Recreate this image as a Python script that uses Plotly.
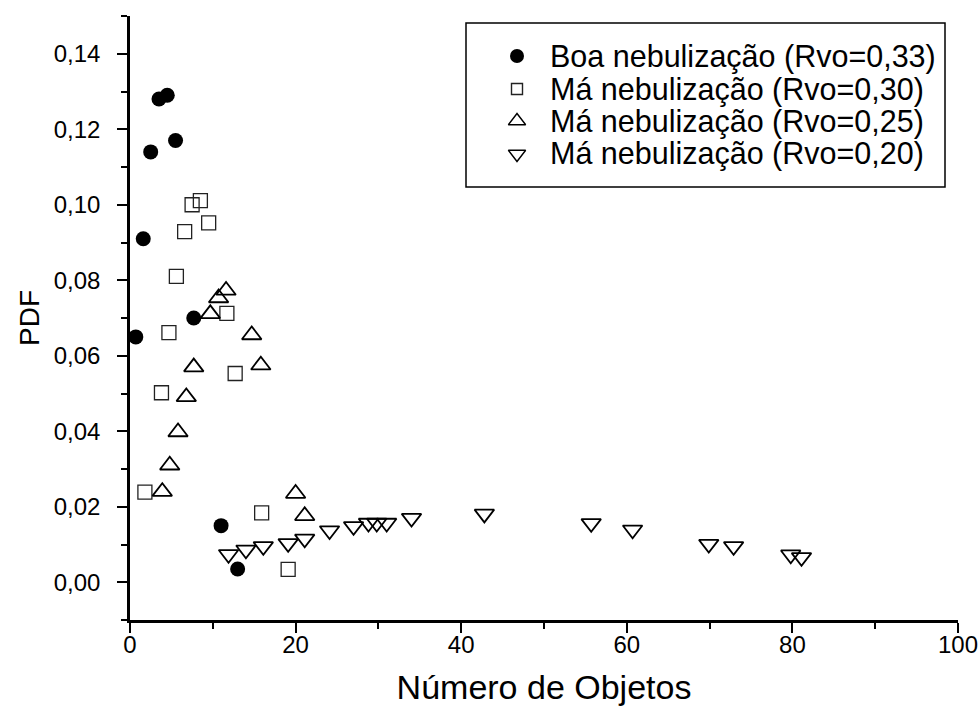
import plotly.graph_objects as go

# Boa nebulização (Rvo=0,33)
boa_x = [0.7, 1.6, 2.5, 3.5, 4.5, 5.5, 7.7, 11.0, 13.0]
boa_y = [0.065, 0.091, 0.114, 0.128, 0.129, 0.117, 0.070, 0.015, 0.0035]

# Má nebulização (Rvo=0,30)
ma30_x = [1.8, 3.8, 4.7, 5.6, 6.6, 7.5, 8.5, 9.5, 11.7, 12.7, 15.9, 19.1]
ma30_y = [0.0239, 0.0502, 0.0661, 0.0810, 0.0929, 0.1000, 0.1011, 0.0952,
          0.0712, 0.0553, 0.0184, 0.0034]

# Má nebulização (Rvo=0,25)
ma25_x = [3.9, 4.8, 5.8, 6.8, 7.7, 9.7, 10.7, 11.6, 14.7, 15.8, 20.0, 21.1]
ma25_y = [0.0240, 0.0310, 0.0398, 0.0491, 0.0570, 0.0711, 0.0753, 0.0773,
          0.0655, 0.0575, 0.0235, 0.0176]

# Má nebulização (Rvo=0,20)
ma20_x = [11.9, 14.0, 16.1, 19.1, 21.1, 24.1, 27.0, 28.8, 29.8, 31.0, 34.0,
          42.8, 55.7, 60.7, 69.9, 72.9, 79.8, 81.1]
ma20_y = [0.0074, 0.0086, 0.0095, 0.0103, 0.0115, 0.0137, 0.0148, 0.0157,
          0.0157, 0.0157, 0.0170, 0.0181, 0.0156, 0.0139, 0.0101, 0.0095,
          0.0073, 0.0066]

series_names = [
    "Boa nebulização (Rvo=0,33)",
    "Má nebulização (Rvo=0,30)",
    "Má nebulização (Rvo=0,25)",
    "Má nebulização (Rvo=0,20)",
]

x_ticks = [0, 20, 40, 60, 80, 100]
y_ticks = [0.00, 0.02, 0.04, 0.06, 0.08, 0.10, 0.12, 0.14]

FONT = "Arial, Liberation Sans, sans-serif"

# Page geometry (pixels) of the plotting area
W, H = 980, 706
L, R, T, B = 130, 958, 16, 620


def px_x(px):
    """Horizontal pixel -> fraction of plotting area."""
    return (px - L) / (R - L)


def px_y(py):
    """Vertical pixel -> fraction of plotting area (bottom = 0)."""
    return (B - py) / (B - T)


styles = [
    dict(symbol="circle", size=15, color="black", line=dict(width=0)),
    dict(symbol="square-open", size=14, color="#222222", line=dict(width=1.3)),
    dict(symbol="triangle-up-open", size=17, color="black", line=dict(width=1.8)),
    dict(symbol="triangle-down-open", size=17, color="black", line=dict(width=1.8)),
]
legend_sizes = [14, 11, 15, 15]

fig = go.Figure()
for name, xs, ys, st in zip(series_names,
                            [boa_x, ma30_x, ma25_x, ma20_x],
                            [boa_y, ma30_y, ma25_y, ma20_y], styles):
    fig.add_trace(go.Scatter(x=xs, y=ys, mode="markers", name=name,
                             marker=st, showlegend=False))

# Legend panel: box, sample markers and labels
box_l, box_r, box_t, box_b = 466, 945, 23, 187
row_y = [56, 89, 121, 154]
mark_x = 517
text_x = 548

fig.add_shape(type="rect", xref="paper", yref="paper",
              x0=px_x(box_l), x1=px_x(box_r), y0=px_y(box_b), y1=px_y(box_t),
              line=dict(color="black", width=1.5), fillcolor="white",
              layer="below")

for name, st, sz, ry in zip(series_names, styles, legend_sizes, row_y):
    mk = dict(st)
    mk["size"] = sz
    if mk["symbol"] != "circle":
        mk["line"] = dict(width=1.4)
    fig.add_trace(go.Scatter(x=[px_x(mark_x)], y=[px_y(ry)], mode="markers",
                             xaxis="x2", yaxis="y2", marker=mk,
                             showlegend=False, hoverinfo="skip", name=name))
    fig.add_annotation(xref="paper", yref="paper", x=px_x(text_x), y=px_y(ry),
                       xanchor="left", yanchor="middle", showarrow=False,
                       text=name,
                       font=dict(family=FONT, size=30.5, color="black"))

axis_common = dict(
    showline=True, linecolor="black", linewidth=2.5,
    ticks="outside", tickcolor="black", tickwidth=2, ticklen=10,
    showgrid=False, zeroline=False, mirror=False, automargin=False,
    ticklabeloverflow="allow",
    tickfont=dict(family=FONT, size=24, color="black"),
)

fig.update_xaxes(
    range=[0, 100], tickvals=x_ticks, ticktext=[str(v) for v in x_ticks],
    minor=dict(ticks="outside", ticklen=6, tickwidth=2, tickcolor="black",
               dtick=10, showgrid=False),
    title=dict(text="Número de Objetos", standoff=30,
               font=dict(family=FONT, size=34, color="black")),
    ticklabelstandoff=-9,
    **axis_common)

fig.update_yaxes(
    range=[-0.01, 0.15], tickvals=y_ticks,
    ticktext=[f"{v:.2f}".replace(".", ",") for v in y_ticks],
    minor=dict(ticks="outside", ticklen=6, tickwidth=2, tickcolor="black",
               dtick=0.01, tick0=0, showgrid=False),
    title=dict(text="PDF", standoff=6,
               font=dict(family=FONT, size=28, color="black")),
    ticklabelstandoff=12,
    **axis_common)

fig.update_layout(
    width=W, height=H,
    margin=dict(l=L, r=W - R, t=T, b=H - B),
    paper_bgcolor="white", plot_bgcolor="white",
    font=dict(family=FONT, color="black"),
    showlegend=False,
    xaxis2=dict(overlaying="x", range=[0, 1], visible=False, fixedrange=True),
    yaxis2=dict(overlaying="y", range=[0, 1], visible=False, fixedrange=True),
)

fig.write_html("out.html")
